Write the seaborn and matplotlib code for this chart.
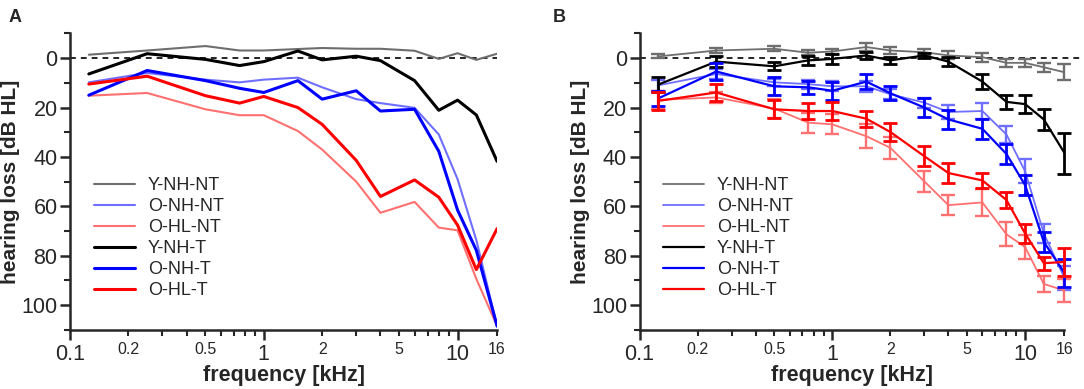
"""
Hearing thresholds per group: single example audiograms (A) and group means +/- SEM (B)
"""
import seaborn as sns
from matplotlib import pyplot as plt
from matplotlib.ticker import FixedLocator, FixedFormatter

freq = [0.125, 0.25, 0.5, 0.75, 1, 1.5, 2, 3, 4, 6, 8, 10, 12.5, 16]
groups = ['Y-NH-NT', 'O-NH-NT', 'O-HL-NT', 'Y-NH-T', 'O-NH-T', 'O-HL-T']

# panel A: thresholds [dB HL]
a_y_nh_nt = [-1.4, -3.1, -4.9, -3.1, -3.1, -3.7, -4.1, -3.8, -3.8, -3.0, 0.3, -2.0, 0.7, -1.8]
a_o_nh_nt = [9.8, 6.0, 8.7, 9.8, 8.7, 7.9, 11.8, 16.6, 18.2, 20.1, 30.9, 49.0, 73.7, 108.5]
a_o_hl_nt = [15.2, 14.1, 20.7, 23.1, 23.1, 29.5, 37.0, 50.0, 62.6, 58.2, 68.6, 69.7, 89.4, 108.5]
a_y_nh_t = [6.4, -1.8, 0.5, 3.0, 1.4, -2.9, 0.7, -0.8, 1.0, 9.1, 21.1, 17.0, 23.0, 41.8]
a_o_nh_t = [15.0, 5.0, 9.1, 12.2, 13.9, 9.1, 16.6, 13.2, 21.4, 20.7, 37.7, 61.5, 77.8, 108.5]
a_o_hl_t = [10.5, 7.3, 15.2, 18.2, 15.5, 20.0, 26.8, 41.4, 56.0, 49.3, 56.3, 67.6, 85.6, 69.0]

# panel B: group means [dB HL]
b_y_nh_nt = [-0.7, -3.1, -3.8, -2.2, -2.7, -4.5, -3.1, -2.4, -1.1, -0.4, 1.9, 1.9, 3.7, 5.7]
b_o_nh_nt = [11.0, 6.4, 9.8, 10.5, 11.4, 11.4, 14.6, 18.0, 21.8, 21.4, 30.9, 45.8, 71.0, 89.0]
b_o_hl_nt = [16.9, 15.9, 20.4, 26.1, 26.8, 31.6, 36.3, 49.9, 59.5, 58.4, 71.3, 76.5, 91.4, 94.1]
b_y_nh_t = [10.7, 1.4, 3.3, 0.9, 0.3, -1.1, 0.9, -1.1, 1.4, 9.5, 17.7, 18.6, 24.8, 38.4]
b_o_nh_t = [16.3, 5.4, 11.4, 11.8, 13.2, 9.5, 14.2, 20.0, 24.8, 28.6, 38.8, 51.4, 74.4, 87.0]
b_o_hl_t = [17.3, 13.9, 20.7, 21.4, 21.4, 24.5, 29.9, 39.7, 46.5, 49.5, 57.4, 71.0, 83.0, 82.5]

# panel B: SEM [dB]
sem_y_nh_nt = [0.8, 1.1, 1.0, 1.0, 1.0, 1.6, 1.5, 1.5, 1.6, 1.8, 1.7, 1.5, 1.9, 3.2]
sem_o_nh_nt = [2.2, 2.0, 1.5, 1.8, 2.0, 2.2, 2.0, 2.0, 2.9, 3.3, 3.5, 4.8, 4.0, 5.0]
sem_o_hl_nt = [3.5, 2.4, 3.7, 4.0, 4.0, 4.8, 4.5, 4.3, 4.0, 5.4, 4.8, 4.8, 3.4, 4.7]
sem_y_nh_t = [3.1, 2.2, 1.6, 1.9, 2.0, 1.4, 1.4, 1.0, 1.9, 3.1, 2.9, 3.7, 4.4, 8.3]
sem_o_nh_t = [3.0, 3.3, 3.6, 2.7, 3.7, 2.9, 2.9, 3.9, 4.0, 4.1, 3.9, 4.2, 4.0, 5.5]
sem_o_hl_t = [3.7, 3.4, 3.6, 3.3, 3.7, 3.2, 3.6, 4.0, 4.0, 3.0, 3.2, 3.7, 2.7, 5.5]

panel_a = [a_y_nh_nt, a_o_nh_nt, a_o_hl_nt, a_y_nh_t, a_o_nh_t, a_o_hl_t]
panel_b = [b_y_nh_nt, b_o_nh_nt, b_o_hl_nt, b_y_nh_t, b_o_nh_t, b_o_hl_t]
panel_b_sem = [sem_y_nh_nt, sem_o_nh_nt, sem_o_hl_nt, sem_y_nh_t, sem_o_nh_t, sem_o_hl_t]

colors = ['#6e6e6e', '#6f6fff', '#ff7070', '#000000', '#0000ff', '#ff0000']
lw_a = [1.5, 1.5, 1.5, 2.2, 2.2, 2.2]
lw_b = [1.3, 1.3, 1.3, 1.6, 1.6, 1.6]

sns.set_style('ticks')
plt.rcParams['font.family'] = ['Liberation Sans', 'DejaVu Sans']
plt.rcParams['axes.linewidth'] = 1.8

fig = plt.figure(figsize=(10.84, 3.89), dpi=100)
ax_a = fig.add_axes([0.0646, 0.152, 0.394, 0.762])
ax_b = fig.add_axes([0.590, 0.152, 0.392, 0.762])


def style_axes(ax, dash_extend):
    ax.axhline(0, xmin=0, xmax=dash_extend, color='black', lw=1.2,
               ls=(0, (3.5, 3)), clip_on=False, zorder=1)
    ax.set_xscale('log')
    ax.set_xlim(0.1, 16)
    ax.set_ylim(110, -10)
    sns.despine(ax=ax)
    ax.xaxis.set_major_locator(FixedLocator([0.1, 1, 10]))
    ax.xaxis.set_major_formatter(FixedFormatter(['0.1', '1', '10']))
    minor = [0.2, 0.3, 0.4, 0.5, 0.6, 0.7, 0.8, 0.9, 2, 3, 4, 5, 6, 7, 8, 9, 16]
    minor_labels = ['0.2', '', '', '0.5', '', '', '', '', '2', '', '', '5', '', '', '', '', '16']
    ax.xaxis.set_minor_locator(FixedLocator(minor))
    ax.xaxis.set_minor_formatter(FixedFormatter(minor_labels))
    ax.set_yticks([0, 20, 40, 60, 80, 100])
    ax.set_yticks([-10, 10, 30, 50, 70, 90, 110], minor=True)
    ax.tick_params(which='major', length=7, width=1.8, labelsize=15.5, direction='out')
    ax.tick_params(which='minor', length=4.5, width=1.5, direction='out')
    ax.tick_params(axis='x', which='minor', labelsize=11.5, pad=4)
    ax.tick_params(axis='x', which='major', pad=3)
    ax.tick_params(axis='y', which='major', pad=2)
    ax.set_xlabel('frequency [kHz]', fontsize=15.5, fontweight='bold', labelpad=0)
    ax.set_ylabel('hearing loss [dB HL]', fontsize=15, fontweight='bold', labelpad=1)
    ax.legend(loc='upper left', bbox_to_anchor=(0.055, 0.515), frameon=False,
              fontsize=13, handlelength=2.3, handletextpad=0.7, labelspacing=0.22,
              borderpad=0, borderaxespad=0)


for name, vals, c, lw in zip(groups, panel_a, colors, lw_a):
    sns.lineplot(x=freq, y=vals, ax=ax_a, color=c, lw=lw, label=name, zorder=3)

for name, vals, err, c, lw in zip(groups, panel_b, panel_b_sem, colors, lw_b):
    sns.lineplot(x=freq, y=vals, ax=ax_b, color=c, lw=lw, label=name, zorder=3)
    ax_b.errorbar(freq, vals, yerr=err, fmt='none', ecolor=c, elinewidth=lw + 0.4,
                  capsize=5, capthick=lw + 0.4, zorder=3, clip_on=False)

style_axes(ax_a, 1.0)
style_axes(ax_b, 1.05)

fig.text(0.008, 0.955, 'A', fontsize=13, fontweight='bold', va='center')
fig.text(0.510, 0.955, 'B', fontsize=13, fontweight='bold', va='center')

fig.savefig('out.png', dpi=100)
